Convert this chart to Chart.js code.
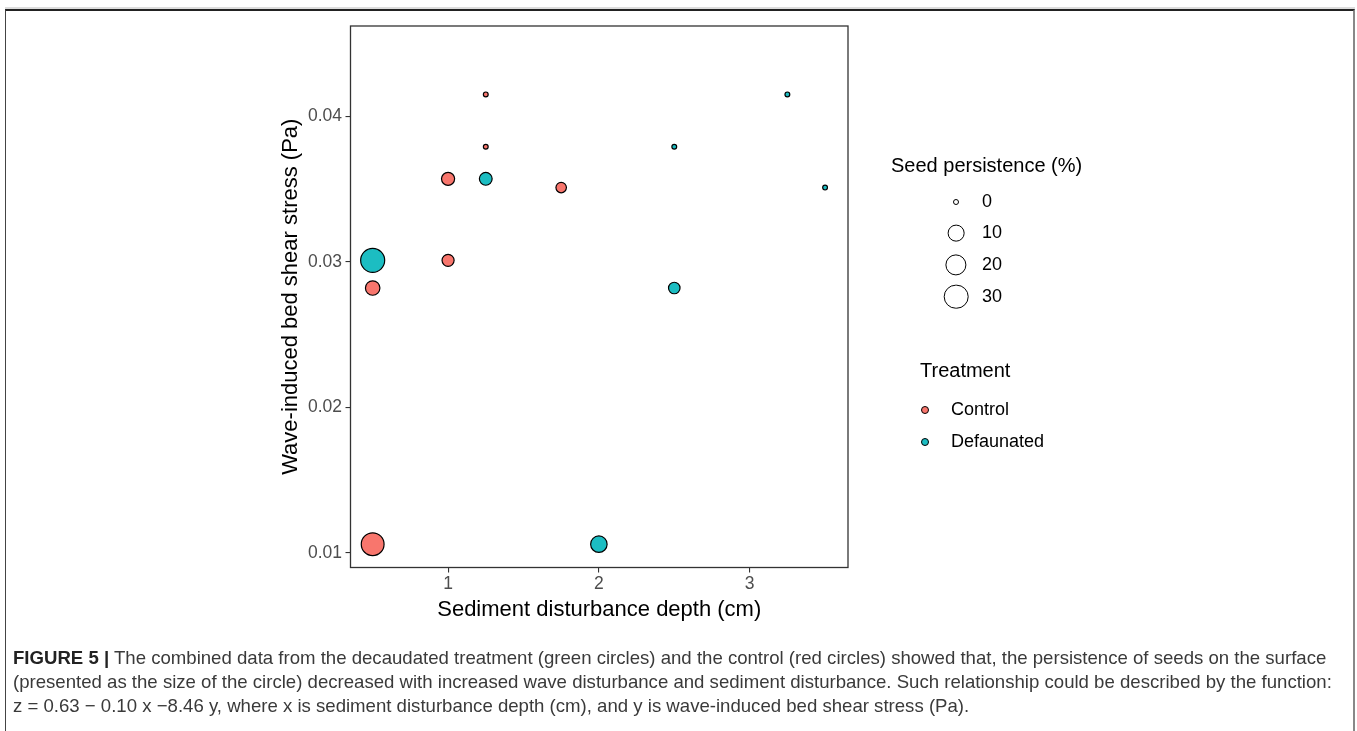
<!DOCTYPE html>
<html>
<head>
<meta charset="utf-8">
<script src="https://cdn.jsdelivr.net/npm/chart.js@4.4.0/dist/chart.umd.min.js"></script>
<style>
  html, body { margin: 0; padding: 0; background: #fff; }
  body { width: 1357px; height: 731px; position: relative; overflow: hidden; font-family: "Liberation Sans", Arial, sans-serif; }
  #frame { position: absolute; left: 5px; top: 9px; width: 1347px; height: 760px;
           border-top: 2px solid #222; border-left: 1px solid #444; border-right: 2px solid #888;
           box-shadow: 0 -2px 0 #ddd; }
  #chart { position: absolute; left: 0; top: 0; }
  .lg { position: absolute; white-space: nowrap; color: #000; transform: translateY(-50%); line-height: 1.2; }
  .dot { position: absolute; border-radius: 50%; box-sizing: border-box; transform: translate(-50%, -50%); }
  .cap { position: absolute; left: 13px; white-space: nowrap; font-size: 18.6px; color: #3a3a3a; transform: translateY(-50%); }
  .cap b { color: #222; }
</style>
</head>
<body>
<div id="frame"></div>
<canvas id="chart" width="1357" height="731"></canvas>
<div id="legend"></div>
<div class="cap" style="top:658px"><b>FIGURE 5 |</b> The combined data from the decaudated treatment (green circles) and the control (red circles) showed that, the persistence of seeds on the surface</div>
<div class="cap" style="top:682px">(presented as the size of the circle) decreased with increased wave disturbance and sediment disturbance. Such relationship could be described by the function:</div>
<div class="cap" style="top:706px">z = 0.63 &minus; 0.10 x &minus;8.46 y, where x is sediment disturbance depth (cm), and y is wave-induced bed shear stress (Pa).</div>
<script>
// valeurs
const treatments = ['Control', 'Defaunated'];
const controlX = [1.25, 1.25, 1.0, 1.75, 1.0, 0.5, 0.5];
const controlY = [0.0415, 0.0379, 0.0357, 0.0351, 0.0301, 0.0282, 0.0106];
const controlSeed = [0, 0, 6, 2.8, 4.6, 8.1, 28];
const defaunX = [3.25, 2.5, 1.25, 3.5, 0.5, 2.5, 2.0];
const defaunY = [0.0415, 0.0379, 0.0357, 0.0351, 0.0301, 0.0282, 0.0106];
const defaunSeed = [0, 0, 5.5, 0, 32, 3.9, 11.8];
const xTicks = [1, 2, 3];
const yTicks = [0.01, 0.02, 0.03, 0.04];
const sizeBreaks = [0, 10, 20, 30];
const colors = ['#F8766D', '#1CBDC2'];

// echelle de taille (aire), rayon en pixels
function bubbleRadius(p) {
    return (6 + 3.4 * Math.sqrt(p)) / 2 - 0.6;
}

function toPoints(xs, ys, seeds) {
    return xs.map((x, i) => ({ x: x, y: ys[i], r: bubbleRadius(seeds[i]) }));
}

const fontFamily = '"Liberation Sans", Arial, sans-serif';

// cadre du panneau
const panelBorder = {
    id: 'panelBorder',
    afterDatasetsDraw(chart) {
        const a = chart.chartArea;
        const ctx = chart.ctx;
        ctx.save();
        ctx.strokeStyle = '#333';
        ctx.lineWidth = 1.3;
        ctx.strokeRect(a.left, a.top, a.right - a.left, a.bottom - a.top);
        ctx.restore();
    }
};

new Chart(document.getElementById('chart').getContext('2d'), {
    type: 'bubble',
    data: {
        datasets: [{
            label: treatments[0],
            data: toPoints(controlX, controlY, controlSeed),
            backgroundColor: colors[0],
            borderColor: '#000',
            borderWidth: 1.2
        }, {
            label: treatments[1],
            data: toPoints(defaunX, defaunY, defaunSeed),
            backgroundColor: colors[1],
            borderColor: '#000',
            borderWidth: 1.2
        }]
    },
    options: {
        responsive: false,
        animation: false,
        events: [],
        layout: { padding: { left: 278, top: 26, right: 509, bottom: 108 } },
        plugins: {
            legend: { display: false },
            tooltip: { enabled: false }
        },
        scales: {
            x: {
                type: 'linear',
                min: 0.353,
                max: 3.652,
                afterBuildTicks: s => { s.ticks = xTicks.map(v => ({ value: v })); },
                afterFit: s => { s.height = 55.5; },
                grid: { drawOnChartArea: false, drawTicks: true, tickLength: 5, color: '#333', lineWidth: 1.1 },
                border: { display: false },
                ticks: { color: '#4d4d4d', font: { size: 17.5, family: fontFamily }, padding: 1, maxRotation: 0 },
                title: { display: true, text: 'Sediment disturbance depth (cm)', color: '#000', font: { size: 22, family: fontFamily }, padding: 0 }
            },
            y: {
                type: 'linear',
                min: 0.009,
                max: 0.0462,
                afterBuildTicks: s => { s.ticks = yTicks.map(v => ({ value: v })); },
                afterFit: s => { s.width = 72.5; },
                grid: { drawOnChartArea: false, drawTicks: true, tickLength: 5, color: '#333', lineWidth: 1.1 },
                border: { display: false },
                ticks: { color: '#4d4d4d', font: { size: 17.5, family: fontFamily }, padding: 3.5, callback: v => v.toFixed(2) },
                title: { display: true, text: 'Wave-induced bed shear stress (Pa)', color: '#000', font: { size: 22, family: fontFamily }, padding: 0 }
            }
        }
    },
    plugins: [panelBorder]
});

// legende HTML
const legend = document.getElementById('legend');
function addText(txt, left, cy, size) {
    const d = document.createElement('div');
    d.className = 'lg';
    d.style.left = left + 'px';
    d.style.top = cy + 'px';
    d.style.fontSize = size + 'px';
    d.textContent = txt;
    legend.appendChild(d);
}
function addDot(cx, cy, diam, fill) {
    const d = document.createElement('div');
    d.className = 'dot';
    d.style.left = cx + 'px';
    d.style.top = cy + 'px';
    d.style.width = diam + 'px';
    d.style.height = diam + 'px';
    d.style.border = '1.2px solid #000';
    d.style.background = fill;
    legend.appendChild(d);
}
addText('Seed persistence (%)', 891, 165, 20);
const sizeRows = [201.5, 233.3, 265, 296.7];
sizeBreaks.forEach((b, i) => {
    addDot(956, sizeRows[i], (bubbleRadius(b) + 0.6) * 2, '#fff');
    addText(String(b), 982, sizeRows[i], 18);
});
addText('Treatment', 920, 370, 20);
const treatRows = [409.5, 441.5];
treatments.forEach((t, i) => {
    addDot(925, treatRows[i], 8, colors[i]);
    addText(t, 951, treatRows[i], 18);
});
</script>
</body>
</html>
